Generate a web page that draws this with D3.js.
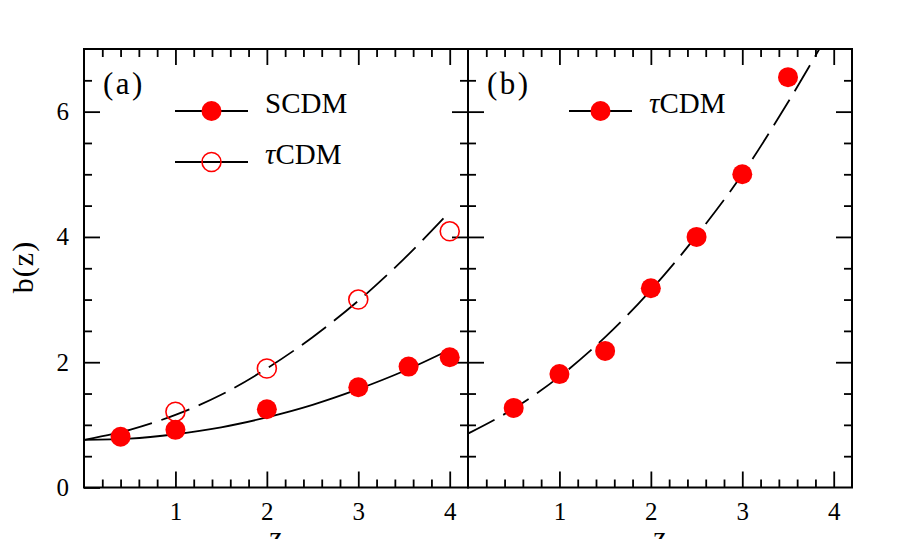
<!DOCTYPE html>
<html><head><meta charset="utf-8">
<script src="https://cdn.jsdelivr.net/npm/d3@7"></script>
<style>body{margin:0;background:#fff}svg{display:block}</style>
</head><body>
<svg id="c" width="900" height="539"></svg>
<script>
// ---- data ----
const zCurve      = [0, 0.5, 1, 1.5, 2, 2.5, 3, 3.5, 4];
const scdmCurveA  = [0.76, 0.78, 0.85, 0.96, 1.12, 1.32, 1.57, 1.86, 2.2];
const tcdmCurveA  = [0.76, 0.92, 1.16, 1.48, 1.9, 2.4, 2.98, 3.65, 4.4];
const tcdmCurveB  = [0.86, 1.26, 1.77, 2.40, 3.15, 4.02, 5.0, 6.15, 7.4];

const scdmA_z = [0.4, 1, 2, 3, 3.55, 4];
const scdmA_b = [0.81, 0.92, 1.25, 1.6, 1.93, 2.08];
const tcdmA_z = [1, 2, 3, 4];
const tcdmA_b = [1.21, 1.9, 3.0, 4.09];
const tcdmB_z = [0.5, 1, 1.5, 2, 2.5, 3, 3.5];
const tcdmB_b = [1.27, 1.81, 2.18, 3.18, 4.0, 5.0, 6.55];

const xMajor = [1, 2, 3, 4];
const yMajor = [0, 2, 4, 6];
const panelLabels = ["(a)", "(b)"];
const legendA = ["SCDM", "CDM"];

// ---- layout ----
const svg = d3.select("#c");
const yTop = 49, yBottom = 487.5;
const panels = [{x0: 84, x1: 468}, {x0: 468, x1: 852}];
const y = d3.scaleLinear().domain([0, 7]).range([yBottom, yTop]);
const xs = panels.map(p => d3.scaleLinear().domain([0, 4.2]).range([p.x0, p.x1]));
const red = "#ff0000";
const numFont = "'Liberation Serif', 'DejaVu Serif', serif";

const xMinor = d3.range(1, 21).map(k => +(k * 0.2).toFixed(1)).filter(v => Math.abs(v - Math.round(v)) > 1e-6);
const yMinor = d3.range(1, 14).map(k => k * 0.5).filter(v => v % 2 !== 0);

function styleAxis(g) {
  g.select(".domain").remove();
  g.selectAll("line").attr("stroke", "#000").attr("stroke-width", 1.8);
  g.selectAll("text").attr("font-family", numFont).attr("font-size", 25).attr("fill", "#000");
}

// clip paths
panels.forEach((p, i) => {
  svg.append("clipPath").attr("id", "clip" + i)
    .append("rect").attr("x", p.x0).attr("y", yTop).attr("width", p.x1 - p.x0).attr("height", yBottom - yTop);
});

// x axes (bottom + top) for each panel
panels.forEach((p, i) => {
  const x = xs[i];
  svg.append("g").attr("transform", `translate(0,${yBottom})`)
    .call(d3.axisBottom(x).tickValues(xMajor).tickSize(-16).tickSizeOuter(0).tickPadding(14.5).tickFormat(d3.format("d")))
    .call(styleAxis);
  svg.append("g").attr("transform", `translate(0,${yBottom})`)
    .call(d3.axisBottom(x).tickValues(xMinor).tickSize(-8).tickSizeOuter(0).tickFormat(""))
    .call(styleAxis);
  svg.append("g").attr("transform", `translate(0,${yTop})`)
    .call(d3.axisTop(x).tickValues(xMajor).tickSize(-16).tickSizeOuter(0).tickFormat(""))
    .call(styleAxis);
  svg.append("g").attr("transform", `translate(0,${yTop})`)
    .call(d3.axisTop(x).tickValues(xMinor).tickSize(-8).tickSizeOuter(0).tickFormat(""))
    .call(styleAxis);
});

// y axes
svg.append("g").attr("transform", `translate(84,0)`)
  .call(d3.axisLeft(y).tickValues(yMajor).tickSize(-16).tickSizeOuter(0).tickPadding(15).tickFormat(d3.format("d")))
  .call(styleAxis);
svg.append("g").attr("transform", `translate(84,0)`)
  .call(d3.axisLeft(y).tickValues(yMinor).tickSize(-8).tickSizeOuter(0).tickFormat(""))
  .call(styleAxis);
[d3.axisLeft, d3.axisRight].forEach(ax => {
  svg.append("g").attr("transform", `translate(468,0)`)
    .call(ax(y).tickValues(yMajor.filter(v => v > 0)).tickSize(16).tickSizeOuter(0).tickFormat(""))
    .call(styleAxis);
  svg.append("g").attr("transform", `translate(468,0)`)
    .call(ax(y).tickValues(yMinor).tickSize(8).tickSizeOuter(0).tickFormat(""))
    .call(styleAxis);
});
svg.append("g").attr("transform", `translate(852,0)`)
  .call(d3.axisRight(y).tickValues(yMajor.filter(v => v > 0)).tickSize(-16).tickSizeOuter(0).tickFormat(""))
  .call(styleAxis);
svg.append("g").attr("transform", `translate(852,0)`)
  .call(d3.axisRight(y).tickValues(yMinor).tickSize(-8).tickSizeOuter(0).tickFormat(""))
  .call(styleAxis);

// frames
panels.forEach(p => {
  svg.append("rect").attr("x", p.x0).attr("y", yTop).attr("width", p.x1 - p.x0).attr("height", yBottom - yTop)
    .attr("fill", "none").attr("stroke", "#000").attr("stroke-width", 2);
});

// curves
function curve(i, vals, dashed) {
  const x = xs[i];
  const line = d3.line().x((d, k) => x(zCurve[k])).y(d => y(d)).curve(d3.curveMonotoneX);
  svg.append("path").attr("clip-path", `url(#clip${i})`).attr("d", line(vals))
    .attr("fill", "none").attr("stroke", "#000").attr("stroke-width", 1.8)
    .attr("stroke-dasharray", dashed ? "30,10" : null);
}
curve(0, scdmCurveA, false);
curve(0, tcdmCurveA, true);
curve(1, tcdmCurveB, true);

// points
function points(i, zs, bs, filled) {
  const x = xs[i];
  svg.append("g").selectAll("circle").data(zs).join("circle")
    .attr("cx", d => x(d)).attr("cy", (d, k) => y(bs[k]))
    .attr("r", filled ? 10 : 9.5)
    .attr("fill", filled ? red : "none")
    .attr("stroke", red).attr("stroke-width", filled ? 0 : 1.6);
}
points(0, scdmA_z, scdmA_b, true);
points(0, tcdmA_z, tcdmA_b, false);
points(1, tcdmB_z, tcdmB_b, true);

// legends
function legendItem(lx0, lx1, ly, filled, label, tau) {
  svg.append("line").attr("x1", lx0).attr("x2", lx1).attr("y1", ly).attr("y2", ly)
    .attr("stroke", "#000").attr("stroke-width", 1.8);
  svg.append("circle").attr("cx", (lx0 + lx1) / 2).attr("cy", ly).attr("r", filled ? 10 : 9.5)
    .attr("fill", filled ? red : "none").attr("stroke", red).attr("stroke-width", filled ? 0 : 1.6);
  const t = svg.append("text").attr("x", lx1 + 17).attr("y", ly + 2)
    .attr("font-family", numFont).attr("font-size", 29).attr("fill", "#000");
  if (tau) t.append("tspan").attr("font-style", "italic").text("τ");
  t.append("tspan").text(label);
}
legendItem(175, 248, 111, true, legendA[0], false);
legendItem(175, 248, 162, false, legendA[1], true);
legendItem(569, 632, 111, true, legendA[1], true);

// panel labels
[[103, panelLabels[0]], [487, panelLabels[1]]].forEach(([lx, s]) => {
  svg.append("text").attr("x", lx).attr("y", 94).attr("font-family", numFont)
    .attr("font-size", 31).attr("letter-spacing", 2.5).attr("fill", "#000").text(s);
});

// axis titles
svg.append("text").attr("transform", "translate(33,267) rotate(-90)").attr("text-anchor", "middle")
  .attr("font-family", numFont).attr("font-size", 30).attr("letter-spacing", 1).attr("fill", "#000").text("b(z)");
panels.forEach(p => {
  svg.append("text").attr("x", (p.x0 + p.x1) / 2).attr("y", 547).attr("text-anchor", "middle")
    .attr("font-family", numFont).attr("font-size", 30).attr("fill", "#000").text("z");
});
</script>
</body></html>
